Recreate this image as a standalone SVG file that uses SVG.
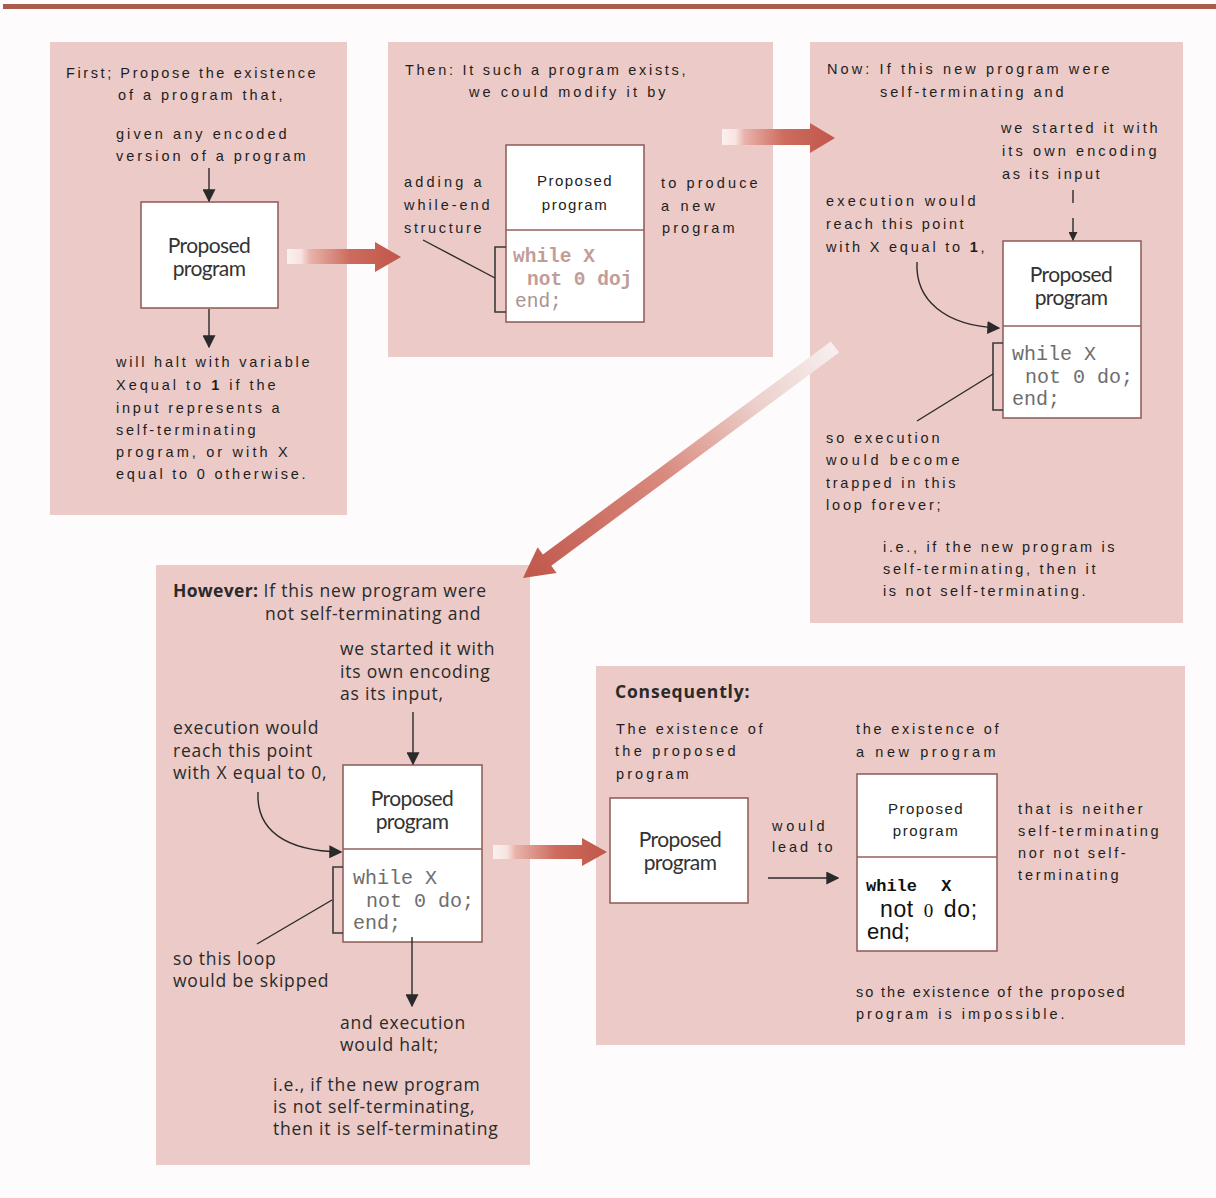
<svg xmlns="http://www.w3.org/2000/svg" width="1216" height="1198" viewBox="0 0 1216 1198">
<defs>
<style>
.panel{fill:#ebcac7}
.box{fill:#ffffff;stroke:#94615b;stroke-width:1.6}
.t{font-family:"Liberation Sans",Arial,sans-serif;font-size:14.5px;letter-spacing:2.4px;fill:#1e1e1e}
.h{font-family:"Open Sans","DejaVu Sans",sans-serif;font-size:17.5px;letter-spacing:0.8px;fill:#2a2a2a}
.pp{font-family:Lato,"Open Sans",sans-serif;font-size:21px;letter-spacing:-0.6px;fill:#333;text-anchor:middle}
.pa{font-family:"Liberation Sans",Arial,sans-serif;font-size:15px;letter-spacing:1.5px;fill:#222;text-anchor:middle}
.code{font-family:"Liberation Mono","Courier New",monospace;font-size:20px;fill:#6e6e6e}
.code2{font-family:"Liberation Mono","Courier New",monospace;font-size:19.5px;font-weight:bold;fill:#c29d98}
.code3{font-family:"Liberation Mono","Courier New",monospace;font-size:19.5px;fill:#a89592}
.ln{fill:none;stroke:#2a2a2a;stroke-width:1.4}
.br{fill:none;stroke:#3a3a3a;stroke-width:1.6}
</style>
<marker id="ah" viewBox="0 0 10 10" refX="9" refY="5" markerWidth="9" markerHeight="9" markerUnits="userSpaceOnUse" orient="auto">
<path d="M0,0 L10,5 L0,10 z" fill="#2a2a2a"/>
</marker>
<marker id="ah2" viewBox="0 0 10 10" refX="9" refY="5" markerWidth="13" markerHeight="13" markerUnits="userSpaceOnUse" orient="auto">
<path d="M0,0 L10,5 L0,10 z" fill="#2a2a2a"/>
</marker>
<linearGradient id="gh" x1="0" y1="0" x2="1" y2="0">
<stop offset="0" stop-color="#fbf1ef"/>
<stop offset="0.12" stop-color="#f7e4e1"/>
<stop offset="0.2" stop-color="#e8b3ab"/>
<stop offset="0.55" stop-color="#cd6c5e"/>
<stop offset="1" stop-color="#c0564a"/>
</linearGradient>
<linearGradient id="gd" gradientUnits="userSpaceOnUse" x1="835" y1="347" x2="523" y2="578">
<stop offset="0" stop-color="#f7efee"/>
<stop offset="0.25" stop-color="#ecd0cc"/>
<stop offset="0.55" stop-color="#d98a7e"/>
<stop offset="1" stop-color="#c0564a"/>
</linearGradient>
</defs>
<rect x="0" y="0" width="1216" height="1198" fill="#fdfbfb"/>
<rect x="3" y="4" width="1213" height="5" fill="#a95b4c"/>

<g id="panel1">
<rect class="panel" x="50" y="42" width="297" height="473"/>
<text class="t" x="66" y="78" textLength="252">First; Propose the existence</text>
<text class="t" x="118" y="100" textLength="167">of a program that,</text>
<text class="t" x="116" y="139" textLength="173">given any encoded</text>
<text class="t" x="116" y="161" textLength="192">version of a program</text>
<rect class="box" x="141" y="202" width="137" height="106"/>
<text class="pp" x="209" y="253">Proposed</text>
<text class="pp" x="209" y="276">program</text>
<text class="t" x="116" y="367" textLength="196">will halt with variable</text>
<text class="t" x="116" y="390" textLength="162">Xequal to <tspan font-weight="bold">1</tspan> if the</text>
<text class="t" x="116" y="413" textLength="166">input represents a</text>
<text class="t" x="116" y="435" textLength="142">self-terminating</text>
<text class="t" x="116" y="457" textLength="174">program, or with X</text>
<text class="t" x="116" y="479" textLength="192">equal to 0 otherwise.</text>
</g>

<g id="panel2">
<rect class="panel" x="388" y="42" width="385" height="315"/>
<text class="t" x="405" y="75" textLength="283">Then: It such a program exists,</text>
<text class="t" x="469" y="97" textLength="199">we could modify it by</text>
<rect class="box" x="506" y="145" width="138" height="177"/>
<line class="box" x1="506" y1="230" x2="644" y2="230"/>
<text class="pa" x="575" y="186">Proposed</text>
<text class="pa" x="575" y="210">program</text>
<text class="code2" x="513" y="262">while X</text>
<text class="code2" x="527" y="285">not 0 doj</text>
<text class="code3" x="515" y="307">end;</text>
<text class="t" x="404" y="187" textLength="80">adding a</text>
<text class="t" x="404" y="210" textLength="88">while-end</text>
<text class="t" x="404" y="233" textLength="80">structure</text>
<text class="t" x="661" y="188" textLength="99">to produce</text>
<text class="t" x="661" y="211" textLength="56">a new</text>
<text class="t" x="662" y="233" textLength="75">program</text>
</g>

<g id="panel3">
<rect class="panel" x="810" y="42" width="373" height="581"/>
<text class="t" x="827" y="74" textLength="285">Now: If this new program were</text>
<text class="t" x="880" y="97" textLength="186">self-terminating and</text>
<text class="t" x="1001" y="133" textLength="159">we started it with</text>
<text class="t" x="1002" y="156" textLength="157">its own encoding</text>
<text class="t" x="1002" y="179" textLength="100">as its input</text>
<text class="t" x="826" y="206" textLength="152">execution would</text>
<text class="t" x="826" y="229" textLength="140">reach this point</text>
<text class="t" x="826" y="252" textLength="161">with X equal to <tspan font-weight="bold">1</tspan>,</text>
<rect class="box" x="1003" y="241" width="138" height="177"/>
<line class="box" x1="1003" y1="326" x2="1141" y2="326"/>
<text class="pp" x="1071" y="282">Proposed</text>
<text class="pp" x="1071" y="305">program</text>
<text class="code" x="1012" y="360">while X</text>
<text class="code" x="1025" y="383">not 0 do;</text>
<text class="code" x="1012" y="405">end;</text>
<text class="t" x="826" y="443" textLength="116">so execution</text>
<text class="t" x="826" y="465" textLength="136">would become</text>
<text class="t" x="826" y="488" textLength="132">trapped in this</text>
<text class="t" x="826" y="510" textLength="117">loop forever;</text>
<text class="t" x="883" y="552" textLength="234">i.e., if the new program is</text>
<text class="t" x="883" y="574" textLength="215">self-terminating, then it</text>
<text class="t" x="883" y="596" textLength="205">is not self-terminating.</text>
</g>

<g id="panel4">
<rect class="panel" x="156" y="565" width="374" height="600"/>
<text class="h" x="173" y="597"><tspan font-weight="bold" letter-spacing="0.3">However:</tspan> If this new program were</text>
<text class="h" x="265" y="620">not self-terminating and</text>
<text class="h" x="340" y="655">we started it with</text>
<text class="h" x="340" y="678">its own encoding</text>
<text class="h" x="340" y="700">as its input,</text>
<text class="h" x="173" y="734">execution would</text>
<text class="h" x="173" y="757">reach this point</text>
<text class="h" x="173" y="779">with X equal to 0,</text>
<rect class="box" x="343" y="765" width="139" height="177"/>
<line class="box" x1="343" y1="849" x2="482" y2="849"/>
<text class="pp" x="412" y="806">Proposed</text>
<text class="pp" x="412" y="829">program</text>
<text class="code" x="353" y="884">while X</text>
<text class="code" x="366" y="907">not 0 do;</text>
<text class="code" x="353" y="929">end;</text>
<text class="h" x="173" y="965">so this loop</text>
<text class="h" x="173" y="987">would be skipped</text>
<text class="h" x="340" y="1029">and execution</text>
<text class="h" x="340" y="1051">would halt;</text>
<text class="h" x="273" y="1091">i.e., if the new program</text>
<text class="h" x="273" y="1113">is not self-terminating,</text>
<text class="h" x="273" y="1135">then it is self-terminating</text>
</g>

<g id="panel5">
<rect class="panel" x="596" y="666" width="589" height="379"/>
<text class="h" x="615" y="698" font-weight="bold" letter-spacing="0">Consequently:</text>
<text class="t" x="616" y="734" textLength="149">The existence of</text>
<text class="t" x="615" y="756" textLength="123">the proposed</text>
<text class="t" x="616" y="779" textLength="75">program</text>
<rect class="box" x="610" y="798" width="138" height="105"/>
<text class="pp" x="680" y="847">Proposed</text>
<text class="pp" x="680" y="870">program</text>
<text class="t" x="772" y="831" textLength="55">would</text>
<text class="t" x="772" y="852" textLength="63">lead to</text>
<text class="t" x="856" y="734" textLength="145">the existence of</text>
<text class="t" x="856" y="757" textLength="142">a new program</text>
<rect class="box" x="857" y="774" width="140" height="177"/>
<line class="box" x1="857" y1="857" x2="997" y2="857"/>
<text class="pa" x="926" y="814">Proposed</text>
<text class="pa" x="926" y="836">program</text>
<text x="866" y="891" font-family="'Liberation Mono','Courier New',monospace" font-size="17px" font-weight="bold" fill="#111" word-spacing="14">while X</text>
<text x="880" y="917" font-family="'Liberation Sans',Arial,sans-serif" font-size="23px" fill="#111" letter-spacing="0.6" word-spacing="3">not <tspan font-family="'Liberation Serif','Times New Roman',serif" font-size="19px">0</tspan> do;</text>
<text x="867" y="939" font-family="'Liberation Sans',Arial,sans-serif" font-size="22px" fill="#111">end;</text>
<text class="t" x="1018" y="814" textLength="127">that is neither</text>
<text class="t" x="1018" y="836" textLength="143">self-terminating</text>
<text class="t" x="1018" y="858" textLength="110">nor not self-</text>
<text class="t" x="1018" y="880" textLength="103">terminating</text>
<text class="t" x="856" y="997" textLength="271">so the existence of the proposed</text>
<text class="t" x="856" y="1019" textLength="211">program is impossible.</text>
</g>

<g id="connectors">
<line class="ln" x1="209" y1="168" x2="209" y2="201" marker-end="url(#ah2)"/>
<line class="ln" x1="209" y1="309" x2="209" y2="347" marker-end="url(#ah2)"/>
<polygon fill="url(#gh)" points="287,249 375,249 375,242 401,257 375,272 375,264 287,264"/>
<polygon fill="url(#gh)" points="722,129 810,129 810,123 835,138 810,153 810,145 722,145"/>
<polygon fill="url(#gd)" points="830.8,341.4 542.9,554.5 537.6,547.3 523,578 556.6,573.0 551.3,565.8 839.2,352.6"/>
<polygon fill="url(#gh)" points="493,845 582,845 582,838 607,852 582,866 582,859 493,859"/>
<line class="ln" x1="423" y1="240" x2="495" y2="278"/>
<path class="br" d="M506,247 H495 V312 H506"/>
<line class="ln" x1="1073" y1="190" x2="1073" y2="203"/>
<line class="ln" x1="1073" y1="218" x2="1073" y2="240" marker-end="url(#ah)"/>
<path class="ln" d="M917,262 C915,300 945,326 999,328" marker-end="url(#ah2)"/>
<path class="br" d="M1003,343 H993 V410 H1003"/>
<line class="ln" x1="917" y1="421" x2="993" y2="374"/>
<line class="ln" x1="413" y1="712" x2="413" y2="764" marker-end="url(#ah2)"/>
<path class="ln" d="M258,792 C256,830 285,851 341,852" marker-end="url(#ah2)"/>
<path class="br" d="M343,867 H333 V933 H343"/>
<line class="ln" x1="257" y1="944" x2="332" y2="900"/>
<line class="ln" x1="412" y1="937" x2="412" y2="1006" marker-end="url(#ah2)"/>
<line class="ln" x1="768" y1="878" x2="838" y2="878" marker-end="url(#ah2)"/>
</g>
</svg>
